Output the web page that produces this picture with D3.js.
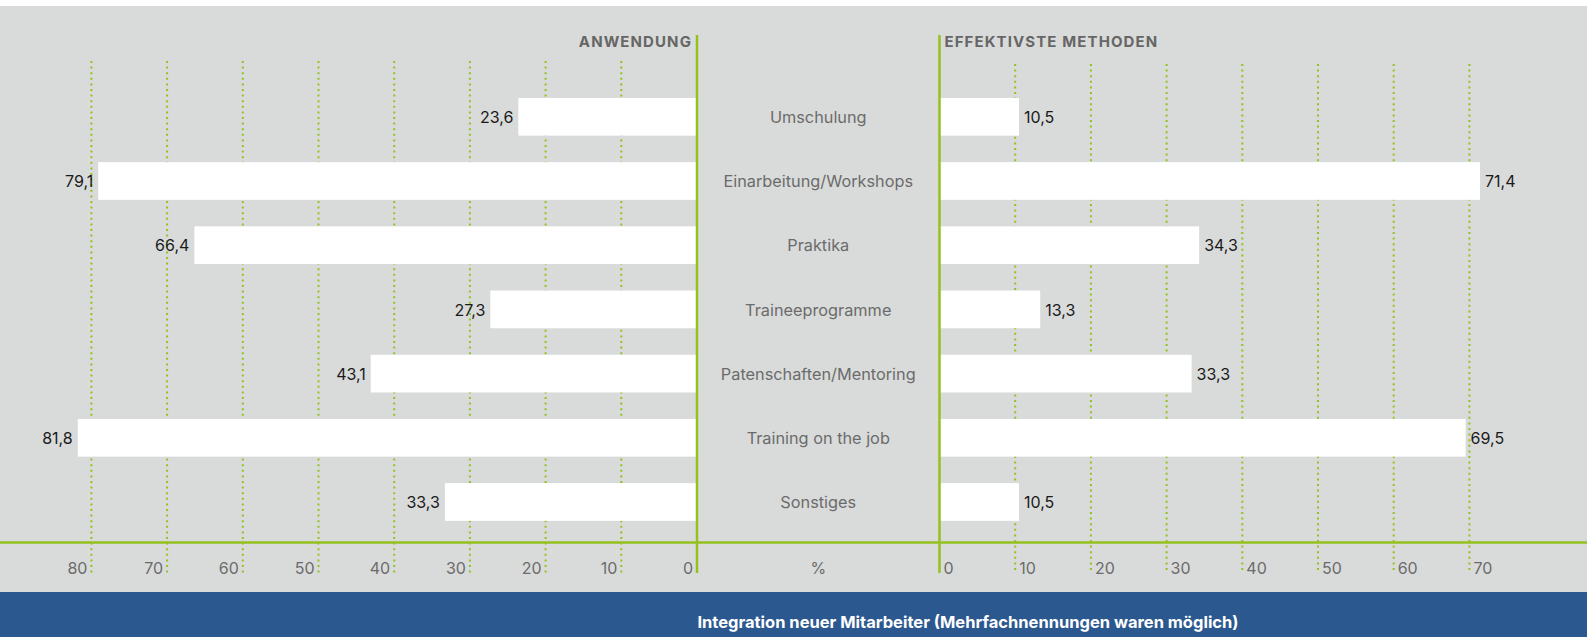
<!DOCTYPE html>
<html>
<head>
<meta charset="utf-8">
<script src="https://cdn.jsdelivr.net/npm/d3@7"></script>
<style>
  html, body { margin: 0; padding: 0; background: #ffffff; }
  svg { display: block; }
  text { font-family: Inter, "Noto Sans", sans-serif; }
</style>
</head>
<body>
<svg id="chart" width="1587" height="637"></svg>
<script>
// Integration neuer Mitarbeiter – Anwendung vs. effektivste Methoden (in %)
const categories = [
  "Umschulung",
  "Einarbeitung/Workshops",
  "Praktika",
  "Traineeprogramme",
  "Patenschaften/Mentoring",
  "Training on the job",
  "Sonstiges"
];
const anwendung = [23.6, 79.1, 66.4, 27.3, 43.1, 81.8, 33.3];
const effektivste = [10.5, 71.4, 34.3, 13.3, 33.3, 69.5, 10.5];
const leftTicks = [0, 10, 20, 30, 40, 50, 60, 70, 80];
const rightTicks = [0, 10, 20, 30, 40, 50, 60, 70];
const leftTitle = "ANWENDUNG";
const rightTitle = "EFFEKTIVSTE METHODEN";
const unitLabel = "%";
const footer = "Integration neuer Mitarbeiter (Mehrfachnennungen waren möglich)";

const W = 1587, H = 637;
const green = "#95c11f", grey = "#6b6b6b", bg = "#d9dbda";
const fmt = v => d3.format(".1f")(v).replace(".", ",");

const svg = d3.select("#chart");

// background panel and footer band
svg.append("rect").attr("x", 0).attr("y", 6).attr("width", W).attr("height", H - 6).attr("fill", bg);
svg.append("rect").attr("x", 0).attr("y", 592).attr("width", W).attr("height", H - 592).attr("fill", "#2c5890");

// scales
const xLeft = d3.scaleLinear().domain([0, 80]).range([697, 91.4]);
const xRight = d3.scaleLinear().domain([0, 70]).range([939.5, 1469.4]);
const y = d3.scaleBand().domain(categories).range([84.7, 534.1]).paddingInner(0.413).paddingOuter(0.2065);
const axisY = 542.5;
const midX = (xLeft(0) + xRight(0)) / 2;

// dotted gridlines
const grid = svg.append("g").attr("stroke", green).attr("stroke-width", 2).attr("stroke-dasharray", "2,3.6");
grid.selectAll("line.l").data(leftTicks.filter(d => d > 0)).join("line")
  .attr("class", "l")
  .attr("x1", d => xLeft(d)).attr("x2", d => xLeft(d))
  .attr("y1", 61).attr("y2", 573);
grid.selectAll("line.r").data(rightTicks.filter(d => d > 0)).join("line")
  .attr("class", "r")
  .attr("x1", d => xRight(d)).attr("x2", d => xRight(d))
  .attr("y1", 64).attr("y2", 573);

// bars
svg.append("g").selectAll("rect").data(categories).join("rect")
  .attr("x", (d, i) => xLeft(anwendung[i]))
  .attr("width", (d, i) => xLeft(0) - xLeft(anwendung[i]))
  .attr("y", d => y(d)).attr("height", y.bandwidth())
  .attr("fill", "#ffffff");
svg.append("g").selectAll("rect").data(categories).join("rect")
  .attr("x", xRight(0))
  .attr("width", (d, i) => xRight(effektivste[i]) - xRight(0))
  .attr("y", d => y(d)).attr("height", y.bandwidth())
  .attr("fill", "#ffffff");

// horizontal baseline and the two zero axes
svg.append("line").attr("x1", 0).attr("x2", W).attr("y1", axisY).attr("y2", axisY)
  .attr("stroke", green).attr("stroke-width", 2.5);
[xLeft(0), xRight(0)].forEach(x => {
  svg.append("line").attr("x1", x).attr("x2", x).attr("y1", 35).attr("y2", 573)
    .attr("stroke", green).attr("stroke-width", 2.5);
});

// value labels
svg.append("g").selectAll("text").data(categories).join("text")
  .attr("x", (d, i) => xLeft(anwendung[i]) - 5)
  .attr("y", d => y(d) + y.bandwidth() / 2 + 0.5)
  .attr("dy", "0.35em").attr("text-anchor", "end")
  .attr("font-size", 16).attr("fill", "#1a1a1a")
  .text((d, i) => fmt(anwendung[i]));
svg.append("g").selectAll("text").data(categories).join("text")
  .attr("x", (d, i) => xRight(effektivste[i]) + 5)
  .attr("y", d => y(d) + y.bandwidth() / 2 + 0.5)
  .attr("dy", "0.35em").attr("text-anchor", "start")
  .attr("font-size", 16).attr("fill", "#1a1a1a")
  .text((d, i) => fmt(effektivste[i]));

// category labels
svg.append("g").selectAll("text").data(categories).join("text")
  .attr("x", midX)
  .attr("y", d => y(d) + y.bandwidth() / 2 + 0.5)
  .attr("dy", "0.35em").attr("text-anchor", "middle")
  .attr("font-size", 16.3).attr("fill", grey)
  .text(d => d);

// tick labels
svg.append("g").selectAll("text").data(leftTicks).join("text")
  .attr("x", d => xLeft(d) - 4).attr("y", 568).attr("dy", "0.35em")
  .attr("text-anchor", "end").attr("font-size", 16).attr("fill", grey)
  .text(d => d);
svg.append("g").selectAll("text").data(rightTicks).join("text")
  .attr("x", d => xRight(d) + 4).attr("y", 568).attr("dy", "0.35em")
  .attr("text-anchor", "start").attr("font-size", 16).attr("fill", grey)
  .text(d => d);
svg.append("text").attr("x", midX).attr("y", 568).attr("dy", "0.35em")
  .attr("text-anchor", "middle").attr("font-size", 16).attr("fill", grey)
  .text(unitLabel);

// section titles
svg.append("text").attr("x", xLeft(0) - 5).attr("y", 41.5).attr("dy", "0.35em")
  .attr("text-anchor", "end").attr("font-size", 15).attr("font-weight", 700)
  .attr("letter-spacing", 1.1).attr("fill", "#666666").text(leftTitle);
svg.append("text").attr("x", xRight(0) + 5).attr("y", 41.5).attr("dy", "0.35em")
  .attr("text-anchor", "start").attr("font-size", 15).attr("font-weight", 700)
  .attr("letter-spacing", 1.1).attr("fill", "#666666").text(rightTitle);

// footer caption
svg.append("text").attr("x", 968).attr("y", 622).attr("dy", "0.35em")
  .attr("text-anchor", "middle").attr("font-size", 16.5).attr("font-weight", 700)
  .attr("fill", "#ffffff").text(footer);
</script>
</body>
</html>
